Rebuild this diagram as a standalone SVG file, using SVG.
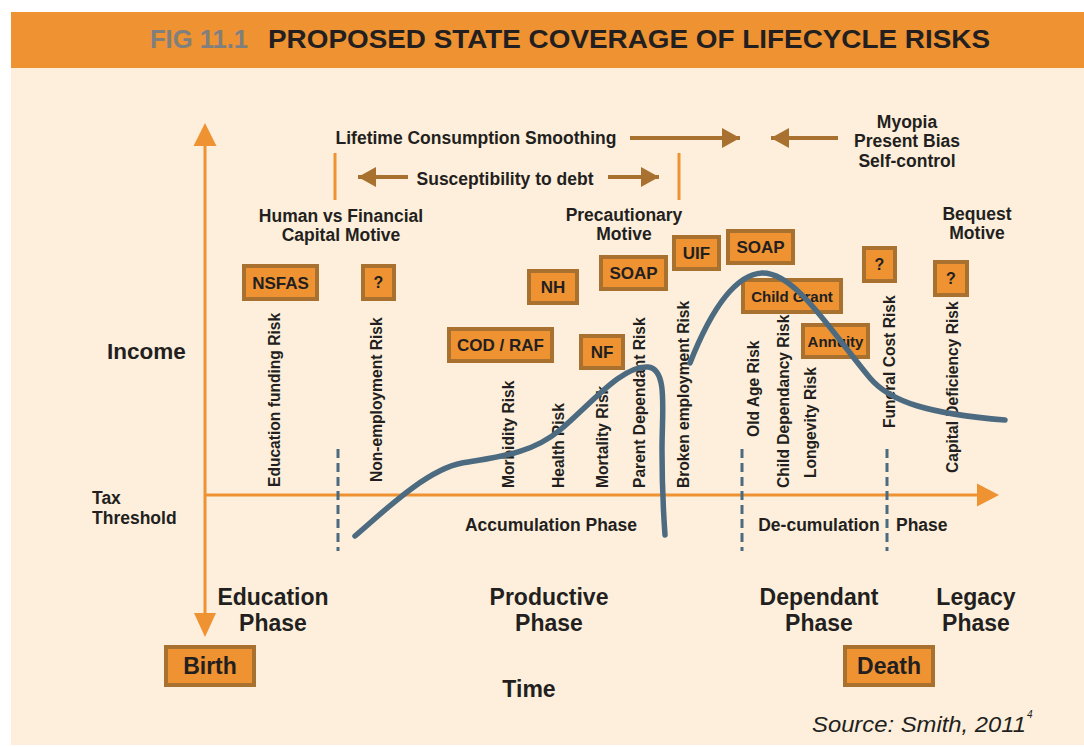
<svg xmlns="http://www.w3.org/2000/svg" width="1084" height="747" viewBox="0 0 1084 747">
<defs>
<style>
.t{font-family:"Liberation Sans",Arial,sans-serif;font-weight:bold;fill:#231F20}
.lab{font-size:17.5px;text-anchor:middle}
.risk{font-size:15.6px}
.box{fill:#EE9232;stroke:#A8712F;stroke-width:4}
.bt{font-size:17px;text-anchor:middle}
.ph{font-size:23px;text-anchor:middle}
.brown{stroke:#A8712F;stroke-width:4;fill:none}
.dash{stroke:#4D6B80;stroke-width:3;stroke-dasharray:9 5;fill:none}
.curve{stroke:#4D6B80;stroke-width:5.5;fill:none;stroke-linecap:round}
</style>
<marker id="bh" markerWidth="5" markerHeight="6" refX="4.5" refY="2.5" orient="auto" markerUnits="strokeWidth">
<path d="M0,0 L4.5,2.5 L0,5 Z" fill="#A8712F"/>
</marker>
</defs>
<rect x="0" y="0" width="1084" height="747" fill="#FFFFFF"/>
<rect x="11" y="68" width="1073" height="677" fill="#FDEFDC"/>
<g id="header">
<rect x="11" y="12" width="1073" height="56" fill="#EE9232"/>
<text x="150" y="48" class="t" style="font-size:25px;fill:#7F7F7F" textLength="98" lengthAdjust="spacingAndGlyphs">FIG 11.1</text>
<text x="268" y="48" class="t" style="font-size:25px" textLength="722" lengthAdjust="spacingAndGlyphs">PROPOSED STATE COVERAGE OF LIFECYCLE RISKS</text>
</g>
<g id="axes">
<line x1="205" y1="140" x2="205" y2="618" stroke="#EE9232" stroke-width="3"/>
<path d="M205,123 L216.5,146 L193.5,146 Z" fill="#EE9232"/>
<path d="M205,637 L216,613 L194,613 Z" fill="#EE9232"/>
<line x1="205" y1="495" x2="980" y2="495" stroke="#EE9232" stroke-width="3"/>
<path d="M999,495 L977,483.5 L977,506.5 Z" fill="#EE9232"/>
<text x="107" y="359" class="t" style="font-size:22.5px">Income</text>
<text x="92" y="504" class="t" style="font-size:17.5px">Tax</text>
<text x="92" y="524" class="t" style="font-size:17.5px">Threshold</text>
</g>
<g id="connectors">
<line x1="335" y1="153" x2="335" y2="200" stroke="#EE9232" stroke-width="3"/>
<line x1="679" y1="153" x2="679" y2="200" stroke="#EE9232" stroke-width="3"/>
<line x1="630" y1="138" x2="740" y2="138" class="brown" marker-end="url(#bh)"/>
<line x1="838" y1="138" x2="771" y2="138" class="brown" marker-end="url(#bh)"/>
<line x1="408" y1="177" x2="358" y2="177" class="brown" marker-end="url(#bh)"/>
<line x1="608" y1="177" x2="659" y2="177" class="brown" marker-end="url(#bh)"/>
<line x1="338" y1="449" x2="338" y2="551" class="dash"/>
<line x1="742" y1="449" x2="742" y2="551" class="dash"/>
<line x1="887" y1="449" x2="887" y2="551" class="dash"/>
</g>
<g id="motives">
<text x="476" y="144" class="t lab">Lifetime Consumption Smoothing</text>
<text x="505" y="185" class="t lab">Susceptibility to debt</text>
<text x="907" y="128" class="t lab">Myopia</text>
<text x="907" y="147" class="t lab">Present Bias</text>
<text x="907" y="167" class="t lab">Self-control</text>
<text x="341" y="222" class="t lab">Human vs Financial</text>
<text x="341" y="241" class="t lab">Capital Motive</text>
<text x="624" y="221" class="t lab">Precautionary</text>
<text x="624" y="240" class="t lab">Motive</text>
<text x="977" y="220" class="t lab">Bequest</text>
<text x="977" y="239" class="t lab">Motive</text>
</g>
<g id="risks">
<text transform="translate(279.5,487) rotate(-90)" class="t risk">Education funding Risk</text>
<text transform="translate(381.5,482) rotate(-90)" class="t risk">Non-employment Risk</text>
<text transform="translate(513.5,488) rotate(-90)" class="t risk">Morbidity Risk</text>
<text transform="translate(563.5,488) rotate(-90)" class="t risk">Health Risk</text>
<text transform="translate(607.5,488) rotate(-90)" class="t risk">Mortality  Risk</text>
<text transform="translate(644.5,488) rotate(-90)" class="t risk">Parent Dependant Risk</text>
<text transform="translate(688.5,488) rotate(-90)" class="t risk">Broken employment Risk</text>
<text transform="translate(758.5,437) rotate(-90)" class="t risk">Old Age Risk</text>
<text transform="translate(788.5,488) rotate(-90)" class="t risk">Child Dependancy Risk</text>
<text transform="translate(815.5,478) rotate(-90)" class="t risk">Longevity Risk</text>
<text transform="translate(894.5,428) rotate(-90)" class="t risk">Funeral Cost Risk</text>
<text transform="translate(957.5,473) rotate(-90)" class="t risk">Capital Deficiency Risk</text>
</g>
<g id="box-nsfas"><rect x="244" y="266" width="73" height="33" class="box"/><text x="280.5" y="288.5" class="t bt">NSFAS</text></g>
<g id="box-q1"><rect x="363" y="266" width="31" height="33" class="box"/><text x="378.5" y="288" class="t bt" style="font-size:16px">?</text></g>
<g id="box-nh"><rect x="529" y="271" width="48" height="32" class="box"/><text x="553" y="293" class="t bt">NH</text></g>
<g id="box-soap1"><rect x="601" y="257" width="65" height="32" class="box"/><text x="633.5" y="279" class="t bt">SOAP</text></g>
<g id="box-uif"><rect x="674" y="237" width="45" height="32" class="box"/><text x="696.5" y="259" class="t bt">UIF</text></g>
<g id="box-soap2"><rect x="728" y="231" width="65" height="32" class="box"/><text x="760.5" y="253" class="t bt">SOAP</text></g>
<g id="box-childgrant"><rect x="743" y="280" width="98" height="32" class="box"/><text x="792" y="301.5" class="t bt" style="font-size:15px">Child Grant</text></g>
<g id="box-q3"><rect x="864" y="248" width="31" height="33" class="box"/><text x="879.5" y="270" class="t bt" style="font-size:16px">?</text></g>
<g id="box-q4"><rect x="935" y="262" width="32" height="33" class="box"/><text x="951" y="284" class="t bt" style="font-size:16px">?</text></g>
<g id="box-codraf"><rect x="449" y="329" width="103" height="32" class="box"/><text x="500.5" y="351" class="t bt">COD / RAF</text></g>
<g id="box-nf"><rect x="581" y="336" width="42" height="32" class="box"/><text x="602" y="358" class="t bt">NF</text></g>
<g id="box-annuity"><rect x="803" y="325" width="65" height="32" class="box"/><text x="835.5" y="346.5" class="t bt" style="font-size:15px">Annuity</text></g>
<g id="curve">
<path class="curve" d="M355,536 C380,515 425,470 462,463 C495,457 530,455 560,430 C590,405 622,365 648,367 C668,369 662,410 662,450 C662,495 664,520 665,535"/>
<path class="curve" d="M690,363 C705,325 730,275 762,273 C795,272 830,330 870,378 C890,402 930,414 1005,420"/>
</g>
<g id="phases">
<text x="551" y="531" class="t lab">Accumulation Phase</text>
<text x="819" y="531" class="t lab">De-cumulation</text>
<text x="896" y="531" class="t" style="font-size:17.5px">Phase</text>
<text x="273" y="605" class="t ph">Education</text>
<text x="273" y="631" class="t ph">Phase</text>
<text x="549" y="605" class="t ph">Productive</text>
<text x="549" y="631" class="t ph">Phase</text>
<text x="819" y="605" class="t ph">Dependant</text>
<text x="819" y="631" class="t ph">Phase</text>
<text x="976" y="605" class="t ph">Legacy</text>
<text x="976" y="631" class="t ph">Phase</text>
<text x="529" y="697" class="t ph">Time</text>
</g>
<g id="box-birth"><rect x="166" y="647" width="88" height="38" class="box"/><text x="210" y="674" class="t ph">Birth</text></g>
<g id="box-death"><rect x="845" y="647" width="88" height="38" class="box"/><text x="889" y="674" class="t ph">Death</text></g>
<g id="source">
<text x="812" y="732" style="font-family:'Liberation Sans',Arial,sans-serif;font-style:italic;font-size:22px;fill:#231F20" textLength="214" lengthAdjust="spacingAndGlyphs">Source: Smith, 2011</text>
<text x="1027" y="718" style="font-family:'Liberation Sans',Arial,sans-serif;font-style:italic;font-size:10px;fill:#231F20">4</text>
</g>
</svg>
